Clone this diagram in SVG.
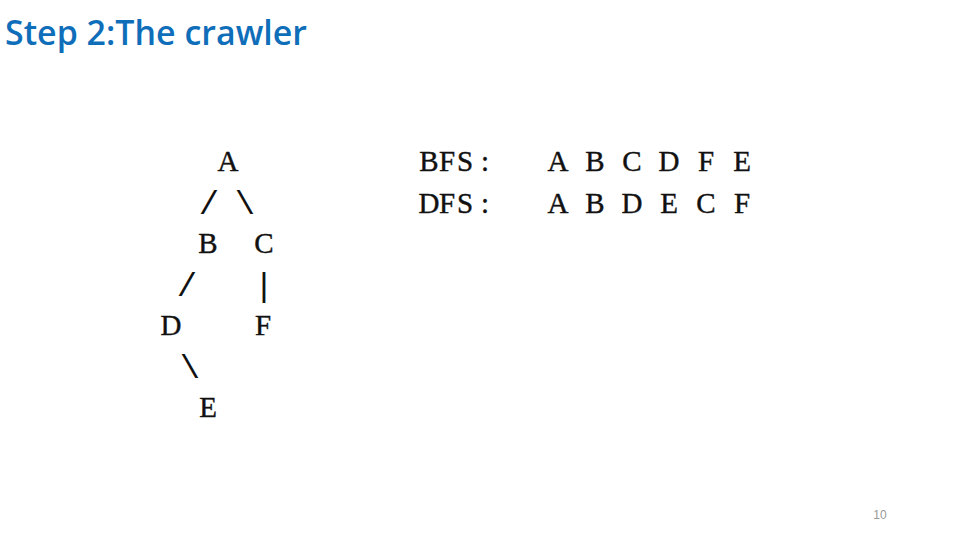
<svg xmlns="http://www.w3.org/2000/svg" width="960" height="540" viewBox="0 0 960 540">
<style>
.t{font-family:"Liberation Serif","DejaVu Serif",serif;font-size:29px;fill:#111;stroke:#111;stroke-width:0.4;text-anchor:middle}
.c{font-family:"Liberation Mono","DejaVu Sans Mono",monospace;font-size:34px;fill:#111;text-anchor:middle}
.title{font-family:"Open Sans","Noto Sans",sans-serif;font-size:34px;font-weight:600;fill:#0F6EB9}
.pg{font-family:"Liberation Sans",Arial,sans-serif;font-size:12px;fill:#999;text-anchor:middle}
</style>
<rect width="960" height="540" fill="#fff"/>
<text class="title" x="5" y="45" textLength="302" lengthAdjust="spacingAndGlyphs">Step 2:The crawler</text>
<g id="connectors">
<text class="c" x="209" y="214">/</text>
<text class="c" x="245" y="214">\</text>
<text class="c" x="187" y="296">/</text>
<text class="c" x="264" y="296">|</text>
<text class="c" x="190" y="378">\</text>
</g>
<g id="node-A"><text class="t" x="228" y="171">A</text></g>
<g id="node-B"><text class="t" x="208" y="253">B</text></g>
<g id="node-C"><text class="t" x="264" y="253">C</text></g>
<g id="node-D"><text class="t" x="171" y="335">D</text></g>
<g id="node-F"><text class="t" x="263" y="335">F</text></g>
<g id="node-E"><text class="t" x="208" y="417">E</text></g>
<g id="bfs">
<text class="t" x="429" y="171">B</text><text class="t" x="447" y="171">F</text><text class="t" x="465" y="171">S</text><text class="t" x="485" y="171">:</text>
<text class="t" x="558" y="171">A</text><text class="t" x="595" y="171">B</text><text class="t" x="632" y="171">C</text><text class="t" x="669" y="171">D</text><text class="t" x="706" y="171">F</text><text class="t" x="742" y="171">E</text>
</g>
<g id="dfs">
<text class="t" x="429" y="213">D</text><text class="t" x="447" y="213">F</text><text class="t" x="465" y="213">S</text><text class="t" x="485" y="213">:</text>
<text class="t" x="558" y="213">A</text><text class="t" x="595" y="213">B</text><text class="t" x="632" y="213">D</text><text class="t" x="669" y="213">E</text><text class="t" x="706" y="213">C</text><text class="t" x="742" y="213">F</text>
</g>
<text class="pg" x="880" y="519">10</text>
</svg>
